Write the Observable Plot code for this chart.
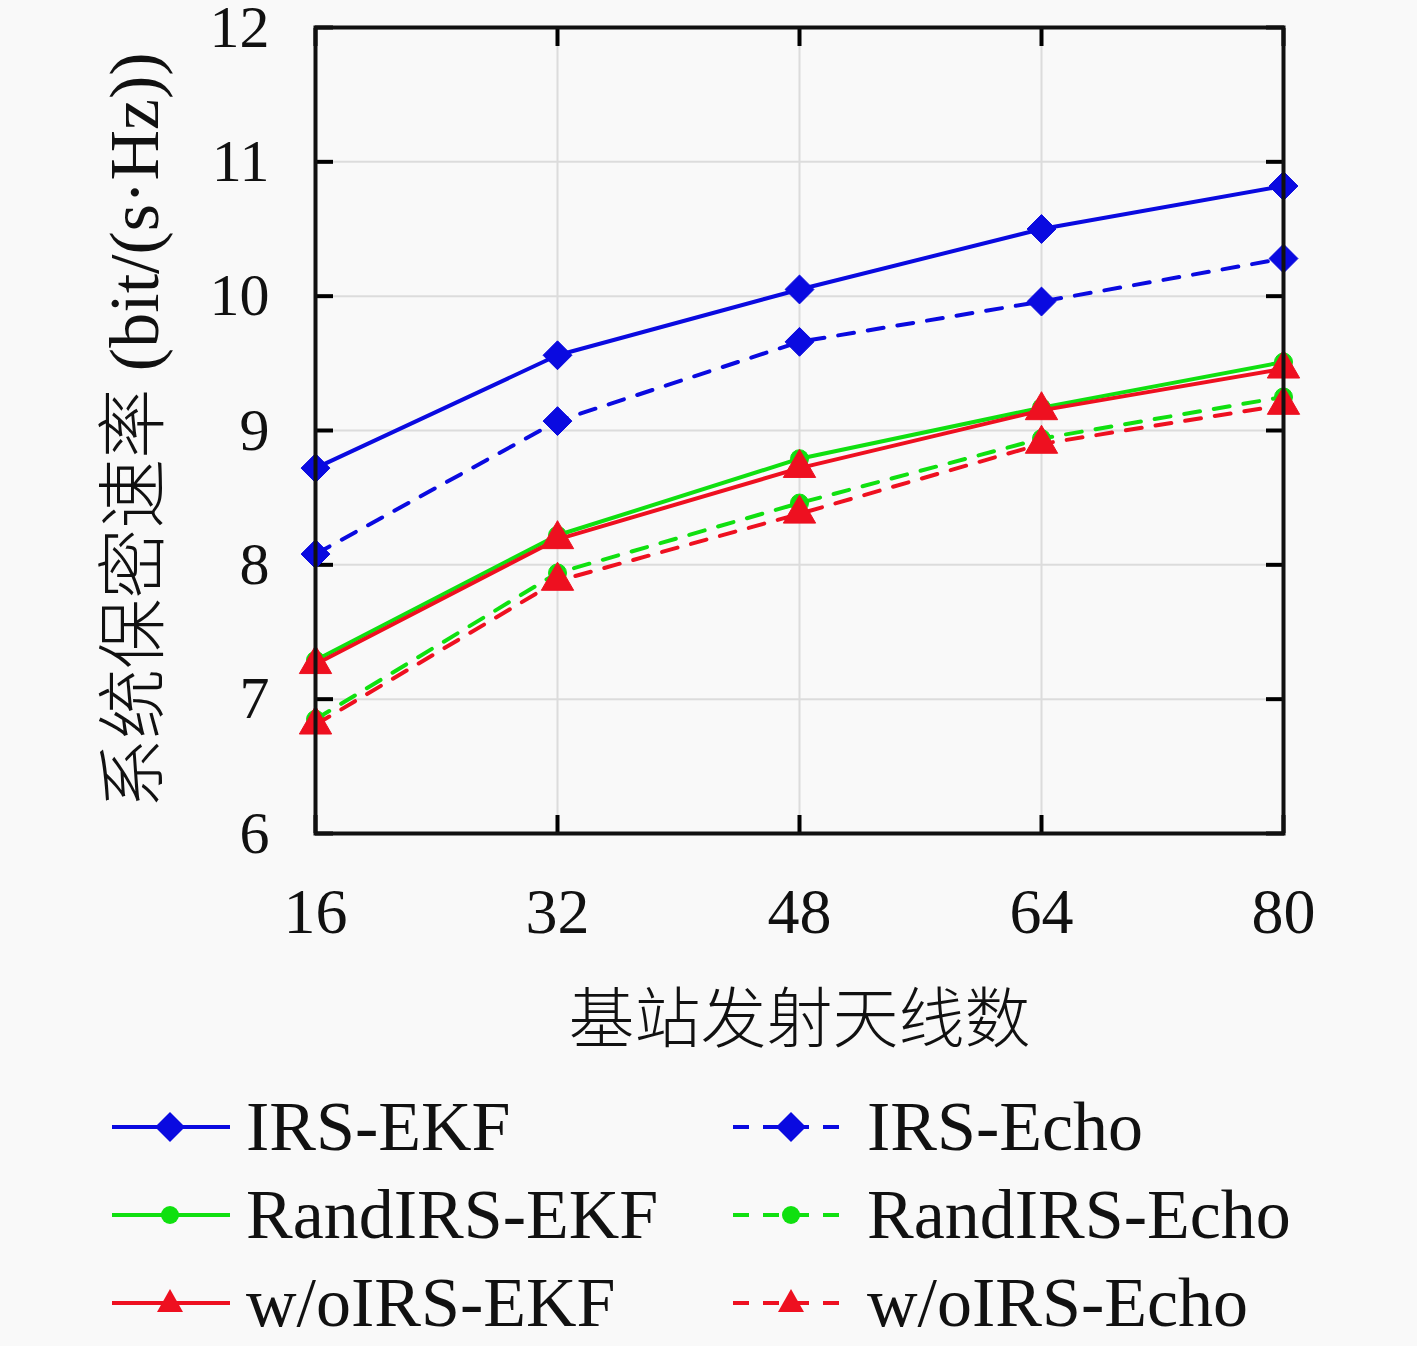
<!DOCTYPE html>
<html>
<head>
<meta charset="utf-8">
<script src="https://cdn.jsdelivr.net/npm/d3@7"></script>
<script src="https://cdn.jsdelivr.net/npm/@observablehq/plot@0.6"></script>
<style>
  html, body { margin: 0; padding: 0; background: #f9f9f9; }
  #chart { width: 1417px; }
  .legend { position: relative; width: 1417px; height: 263px; font-family: "Liberation Serif", "DejaVu Serif", serif; font-size: 70px; color: #111; }
  .item { position: absolute; display: flex; align-items: center; height: 88px; }
  .item svg { margin-right: 16px; }
</style>
</head>
<body>
<div id="chart"></div>
<div class="legend" id="legend"></div>
<script>
const antennas = [16, 32, 48, 64, 80];
const seriesNames = ["IRS-EKF", "IRS-Echo", "RandIRS-EKF", "RandIRS-Echo", "w/oIRS-EKF", "w/oIRS-Echo"];
const irsEKF       = [8.72, 9.56, 10.05, 10.50, 10.82];
const irsEcho      = [8.08, 9.07, 9.66, 9.96, 10.28];
const randEKF      = [7.29, 8.22, 8.79, 9.17, 9.51];
const randEcho     = [6.85, 7.94, 8.46, 8.94, 9.25];
const woEKF        = [7.26, 8.19, 8.72, 9.15, 9.46];
const woEcho       = [6.81, 7.88, 8.38, 8.90, 9.19];
const yTicks = [6, 7, 8, 9, 10, 11, 12];
const xLabel = "基站发射天线数";
const yLabel = "系统保密速率 (bit/(s·Hz))";

const colors  = ["#0a0ae0", "#0a0ae0", "#10e010", "#10e010", "#ee1020", "#ee1020"];
const symbols = ["diamond2", "diamond2", "circle", "circle", "triangle", "triangle"];
const dashed  = [false, true, false, true, false, true];
const values  = [irsEKF, irsEcho, randEKF, randEcho, woEKF, woEcho];

const rows = [];
seriesNames.forEach((s, i) => antennas.forEach((a, j) => rows.push({series: s, x: a, y: values[i][j], i})));

const font = "'Liberation Serif', 'Noto Sans CJK SC', serif";
const marks = [
  Plot.gridX(antennas, {stroke: "#dcdcdc", strokeOpacity: 1, strokeWidth: 2}),
  Plot.gridY(yTicks, {stroke: "#dcdcdc", strokeOpacity: 1, strokeWidth: 2}),
  Plot.axisX(antennas, {anchor: "bottom", tickSize: -18, strokeWidth: 4, text: null, label: null}),
  Plot.axisX(antennas, {anchor: "top", tickSize: -18, strokeWidth: 4, text: null, label: null}),
  Plot.axisY(yTicks, {anchor: "left", tickSize: -18, strokeWidth: 4, text: null, label: null}),
  Plot.axisY(yTicks, {anchor: "right", tickSize: -18, strokeWidth: 4, text: null, label: null}),
  Plot.axisX(antennas, {anchor: "bottom", tickSize: 0, tickPadding: 54, fontSize: 64, fill: "#111", label: null, tickFormat: "d"}),
  Plot.axisY(yTicks, {anchor: "left", tickSize: 0, tickPadding: 46, fontSize: 60, fill: "#111", label: null, tickFormat: "d"})
];
seriesNames.forEach((s, i) => {
  const d = rows.filter(r => r.i === i);
  marks.push(Plot.line(d, {x: "x", y: "y", stroke: colors[i], strokeWidth: 4, strokeDasharray: dashed[i] ? "16,14" : null}));
  marks.push(Plot.dot(d, {x: "x", y: "y", symbol: symbols[i], fill: colors[i], stroke: colors[i], strokeWidth: 1,
    r: symbols[i] === "circle" ? 9 : (symbols[i] === "triangle" ? 12 : 13)}));
});
marks.push(Plot.frame({stroke: "#111", strokeWidth: 4}));
marks.push(Plot.text([xLabel], {frameAnchor: "bottom", lineAnchor: "middle", dy: 187, fontSize: 66, fill: "#111", fontFamily: "'Noto Sans CJK SC', sans-serif", fontWeight: 300}));
marks.push(Plot.text([yLabel], {frameAnchor: "left", textAnchor: "middle", lineAnchor: "middle", dx: -180, rotate: -90, fontSize: 70, fill: "#111", fontFamily: font, fontWeight: 300}));

const chart = Plot.plot({
  width: 1417,
  height: 1083,
  marginLeft: 315,
  marginRight: 134,
  marginTop: 27,
  marginBottom: 250,
  style: {fontFamily: font, background: "#f9f9f9", overflow: "visible"},
  x: {domain: [16, 80], ticks: antennas},
  y: {domain: [6, 12], ticks: yTicks},
  marks
});
document.getElementById("chart").appendChild(chart);

// legend
const legend = document.getElementById("legend");
const symbolPath = {
  diamond2: "M0,-15L15,0L0,15L-15,0Z",
  triangle: "M0,-14L13,9L-13,9Z"
};
seriesNames.forEach((s, i) => {
  const col = i % 2, row = Math.floor(i / 2);
  const div = document.createElement("div");
  div.className = "item";
  div.style.left = (col === 0 ? 112 : 733) + "px";
  div.style.top = (row * 88) + "px";
  const dash = dashed[i] ? 'stroke-dasharray="16,14"' : "";
  const m = symbols[i] === "circle"
    ? `<circle cx="58" cy="22" r="9" fill="${colors[i]}"/>`
    : `<path transform="translate(58,22)" d="${symbolPath[symbols[i]]}" fill="${colors[i]}"/>`;
  div.innerHTML = `<svg width="118" height="44"><line x1="0" y1="22" x2="118" y2="22" stroke="${colors[i]}" stroke-width="4" ${dash}/>${m}</svg><span>${s}</span>`;
  legend.appendChild(div);
});
</script>
</body>
</html>
